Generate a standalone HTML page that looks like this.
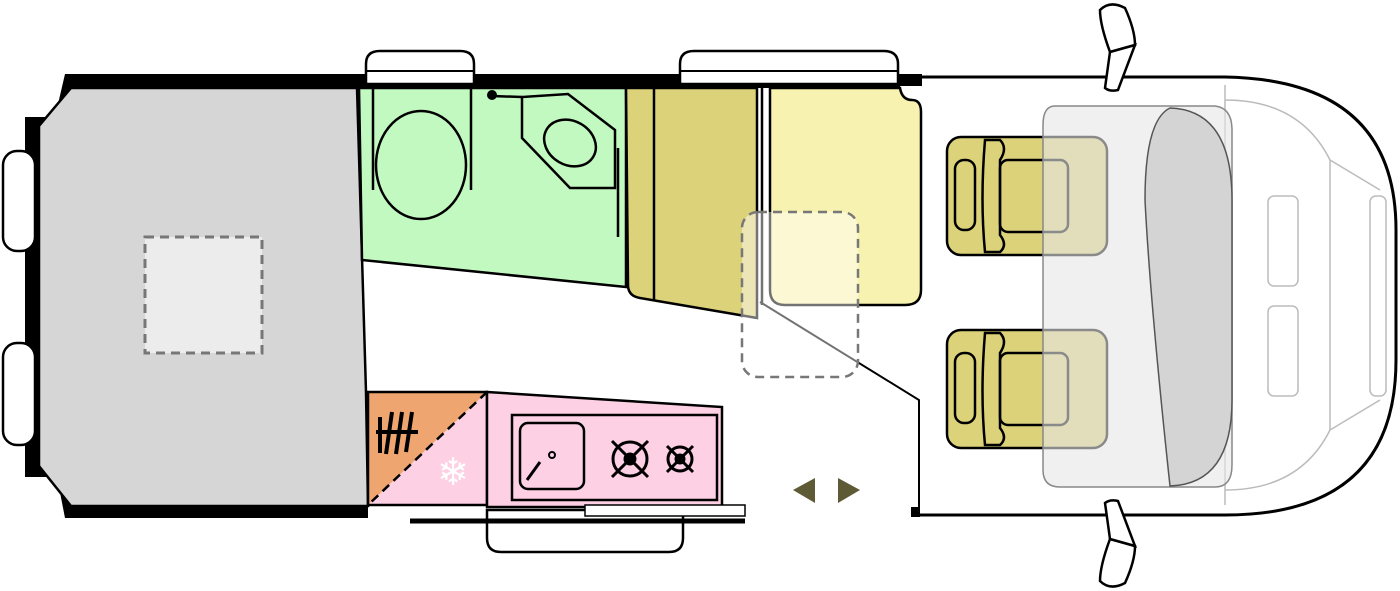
<!DOCTYPE html>
<html><head><meta charset="utf-8"><style>html,body{margin:0;padding:0;background:#fff}svg{display:block}</style></head>
<body>
<svg width="1400" height="591" viewBox="0 0 1400 591" xmlns="http://www.w3.org/2000/svg" font-family="Liberation Sans, sans-serif">
<!-- cab outline -->
<path d="M900 77 L1225 77 Q1396 80 1396 230 L1396 360 Q1396 515 1225 515 L912 515" fill="#fff" stroke="#000" stroke-width="3"/>
<!-- rear body outer -->
<path d="M65 74 L900 74 L900 88 L71 88 L39 126 L39 466 L71 506 L368 506 L368 518 L65 518 L57 477 L25 477 L25 117 L55 117 Z" fill="#000"/>
<rect x="898" y="74" width="24" height="12" fill="#000"/>
<!-- wheel arches / rear lights -->
<g fill="#fff" stroke="#000" stroke-width="2.5">
<rect x="3" y="151" width="32" height="100" rx="14"/>
<rect x="3" y="343" width="32" height="102" rx="14"/>
<path d="M366 84 L366 64 Q366 51 380 51 L460 51 Q474 51 474 64 L474 84 Z"/>
<path d="M680 84 L680 64 Q680 51 694 51 L884 51 Q898 51 898 64 L898 84 Z"/>
<path d="M487 510 L487 538 Q487 552 501 552 L669 552 Q683 552 683 538 L683 510 Z"/>
</g>
<g stroke="#000" stroke-width="2"><path d="M366 71 L474 71 M680 71 L898 71 M487 520 L683 520"/></g>
<!-- grey bed -->
<path d="M71 88 L357 88 L366 392 L368 506 L71 506 L39 466 L39 126 Z" fill="#d6d6d6" stroke="#000" stroke-width="2.5"/>
<rect x="145" y="237" width="117" height="116" fill="#ececec" stroke="#777" stroke-width="3" stroke-dasharray="9,6"/>
<!-- bathroom -->
<path d="M359 88 L626 88 L626 287 L362 260 Z" fill="#c2f9c1" stroke="#000" stroke-width="2.5"/>
<g fill="none" stroke="#000" stroke-width="2.5">
<path d="M373 88 L373 190 M471 88 L471 190"/>
<ellipse cx="421" cy="165" rx="45" ry="54"/>
<path d="M522 97 L522 138 L570 188 L615 188 L615 130 L568 94 Z"/>
<ellipse cx="570" cy="143" rx="27" ry="22" transform="rotate(30 570 143)"/>
<path d="M618 148 L618 237 M492 96 L522 97"/>
</g>
<circle cx="492" cy="95" r="5" fill="#000"/>
<!-- olive wardrobe -->
<path d="M626 88 L757 88 L757 318 L640 298 Q628 296 628 285 Z" fill="#dcd27a" stroke="#000" stroke-width="2.5"/>
<line x1="654" y1="88" x2="654" y2="300" stroke="#000" stroke-width="2.5"/>
<!-- light yellow bed -->
<path d="M770 88 L900 88 Q902 100 912 100 Q921 100 921 112 L921 290 Q921 305 905 305 L785 305 Q770 305 770 290 Z" fill="#f7f2b0" stroke="#000" stroke-width="2.5"/>
<line x1="762" y1="88" x2="762" y2="305" stroke="#000" stroke-width="2.5"/>
<!-- partition -->
<path d="M760 302 L919 400 L919 514" fill="none" stroke="#000" stroke-width="2"/>
<rect x="911" y="507" width="9" height="10" fill="#000"/>
<!-- dashed table -->
<rect x="742" y="212" width="116" height="165" rx="16" fill="#fff" fill-opacity="0.45" stroke="#777" stroke-width="2.5" stroke-dasharray="9,6"/>
<!-- kitchen -->
<path d="M368 392 L487 392 L368 505 Z" fill="#eea56f"/>
<path d="M487 392 L487 505 L368 505 Z" fill="#fdd0e4"/>
<path d="M368 392 L487 392 L487 505 L368 505 Z" fill="none" stroke="#000" stroke-width="2.5"/>
<line x1="487" y1="392" x2="368" y2="505" stroke="#000" stroke-width="2.5" stroke-dasharray="9,6"/>
<g stroke="#000" stroke-width="4"><path d="M380 417 L380 453 M392 412 L386 454 M402 412 L396 454 M412 412 L406 452 M376 432 L418 432"/></g>
<text x="453" y="485" font-size="38" fill="#fff" text-anchor="middle">❄</text>
<path d="M487 392 L722 407 L722 507 L487 507 Z" fill="#fdd0e4" stroke="#000" stroke-width="2.5"/>
<rect x="512" y="415" width="205" height="85" fill="none" stroke="#000" stroke-width="2.5"/>
<rect x="520" y="423" width="64" height="66" rx="8" fill="none" stroke="#000" stroke-width="2.5"/>
<circle cx="552" cy="455" r="3" fill="none" stroke="#000" stroke-width="2"/>
<path d="M540 462 L527 480" stroke="#000" stroke-width="3"/>
<g fill="none" stroke="#000" stroke-width="3">
<circle cx="630" cy="459" r="17"/><path d="M612 441 L648 477 M648 441 L612 477"/><circle cx="630" cy="459" r="5" fill="#000"/>
<circle cx="680" cy="459" r="12"/><path d="M667 446 L693 472 M693 446 L667 472"/><circle cx="680" cy="459" r="4" fill="#000"/>
</g>
<!-- step -->
<rect x="585" y="505" width="160" height="11" fill="#fff" stroke="#000" stroke-width="1.5"/>
<line x1="410" y1="521" x2="745" y2="521" stroke="#000" stroke-width="5"/>
<!-- arrows -->
<path d="M815 478 L793 490 L815 503 Z M838 478 L860 490 L838 503 Z" fill="#5d5a35"/>
<!-- cab details -->
<g fill="none" stroke="#bbb" stroke-width="1.5">
<path d="M1225 85 L1225 505 M1225 100 Q1300 100 1330 160 L1330 430 Q1300 490 1225 490"/>
<rect x="1268" y="196" width="30" height="90" rx="6"/>
<rect x="1268" y="306" width="30" height="90" rx="6"/>
<rect x="1370" y="196" width="16" height="200" rx="6"/>
<path d="M1330 160 L1380 190 M1330 430 L1380 400"/>
</g>
<!-- seats -->
<g stroke="#000" stroke-width="2.5">
<g>
<rect x="947" y="137" width="160" height="118" rx="14" fill="#dcd27a"/>
<rect x="955" y="160" width="20" height="70" rx="9" fill="none"/>
<path d="M985 140 L1000 140 Q1008 148 1000 160 L1000 235 Q1008 245 1000 252 L985 252 Q980 200 985 140 Z" fill="none"/>
<rect x="1000" y="160" width="68" height="72" rx="8" fill="none"/>
</g>
<g transform="translate(0,193)">
<rect x="947" y="137" width="160" height="118" rx="14" fill="#dcd27a"/>
<rect x="955" y="160" width="20" height="70" rx="9" fill="none"/>
<path d="M985 140 L1000 140 Q1008 148 1000 160 L1000 235 Q1008 245 1000 252 L985 252 Q980 200 985 140 Z" fill="none"/>
<rect x="1000" y="160" width="68" height="72" rx="8" fill="none"/>
</g>
</g>
<path d="M1055 106 L1215 106 Q1232 108 1232 130 L1232 465 Q1232 487 1215 487 L1060 487 Q1043 487 1043 470 L1043 125 Q1043 106 1055 106 Z" fill="#e6e6e6" fill-opacity="0.6" stroke="#888" stroke-width="1.5"/>
<path d="M1170 108 Q1232 110 1232 200 L1232 400 Q1232 484 1170 486 Q1150 300 1145 200 Q1145 120 1170 108 Z" fill="#d4d4d4" stroke="#555" stroke-width="1.5"/>
<!-- mirrors -->
<g fill="#fff" stroke="#000" stroke-width="2.5">
<path d="M1100 10 Q1110 0 1125 8 Q1135 30 1135 45 L1110 52 Q1100 25 1100 10 Z"/>
<path d="M1110 52 L1135 45 L1118 90 Q1110 92 1105 88 Z"/>
<path d="M1100 581 Q1110 591 1125 583 Q1135 561 1135 546 L1110 539 Q1100 566 1100 581 Z"/>
<path d="M1110 539 L1135 546 L1118 501 Q1110 499 1105 503 Z"/>
</g>
</svg>
</body></html>
